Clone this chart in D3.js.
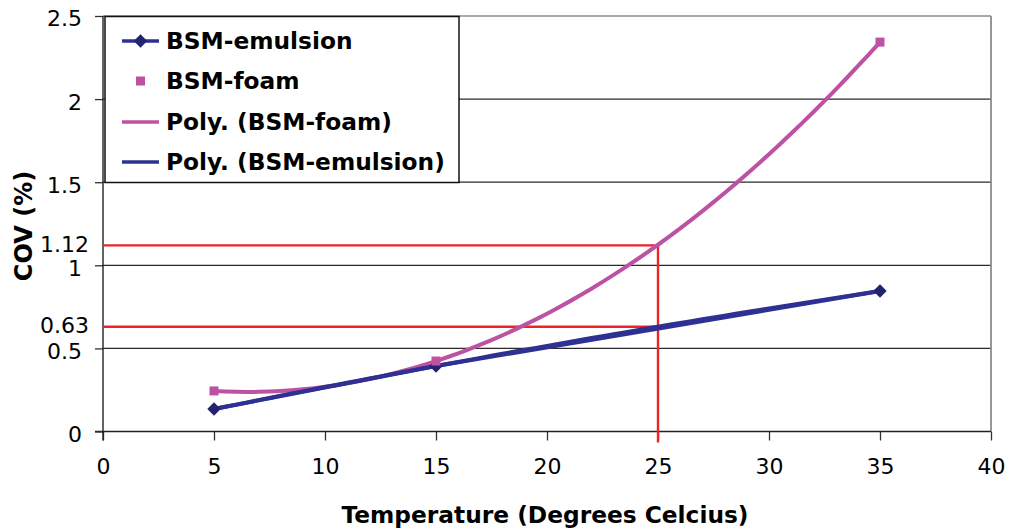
<!DOCTYPE html>
<html>
<head>
<meta charset="utf-8">
<script src="https://cdn.jsdelivr.net/npm/d3@7"></script>
<style>
  html, body { margin: 0; padding: 0; background: #fff; }
  svg { display: block; }
</style>
</head>
<body>
<svg id="chart" width="1009" height="530"></svg>
<script>
// ---- Data ----
const temperatures = [5, 15, 35];
const emulsionValues = [0.135, 0.394, 0.845];
const foamValues = [0.244, 0.424, 2.343];
const xTicks = [0, 5, 10, 15, 20, 25, 30, 35, 40];
const yTicks = [0, 0.5, 1, 1.5, 2, 2.5];
const refTemperature = 25;
const refValues = [1.12, 0.63];
const refLabels = ["1.12", "0.63"];
const legendLabels = ["BSM-emulsion", "BSM-foam", "Poly. (BSM-foam)", "Poly. (BSM-emulsion)"];
const xTitle = "Temperature (Degrees Celcius)";
const yTitle = "COV (%)";

// ---- Colors ----
const navy = "#2e3192";
const navyDark = "#232370";
const pink = "#bd52a3";
const red = "#ee2227";

const svg = d3.select("#chart");
const x = d3.scaleLinear().domain([0, 40]).range([103, 991]);
const y = d3.scaleLinear().domain([0, 2.5]).range([431.5, 16]);

// polynomial (order 2) least squares trendline
function polyFit(xs, ys) {
  const n = xs.length;
  let S = [0,0,0,0,0], T = [0,0,0];
  for (let i = 0; i < n; i++) {
    for (let k = 0; k < 5; k++) S[k] += Math.pow(xs[i], k);
    for (let k = 0; k < 3; k++) T[k] += ys[i] * Math.pow(xs[i], k);
  }
  const A = [[S[0],S[1],S[2],T[0]],[S[1],S[2],S[3],T[1]],[S[2],S[3],S[4],T[2]]];
  for (let c = 0; c < 3; c++) {
    let p = c;
    for (let r = c+1; r < 3; r++) if (Math.abs(A[r][c]) > Math.abs(A[p][c])) p = r;
    [A[c], A[p]] = [A[p], A[c]];
    for (let r = 0; r < 3; r++) if (r !== c) {
      const f = A[r][c] / A[c][c];
      for (let k = c; k < 4; k++) A[r][k] -= f * A[c][k];
    }
  }
  const coef = [A[0][3]/A[0][0], A[1][3]/A[1][1], A[2][3]/A[2][2]];
  return t => coef[0] + coef[1]*t + coef[2]*t*t;
}
function trend(xs, ys) {
  const f = polyFit(xs, ys);
  const lo = d3.min(xs), hi = d3.max(xs);
  return d3.range(0, 61).map(i => { const t = lo + (hi - lo) * i / 60; return [t, f(t)]; });
}

// ---- Plot frame & grid ----
const plotLeft = x(0), plotRight = x(40);
svg.append("g").selectAll("line").data(yTicks.filter(d => d > 0 && d < 2.5)).join("line")
  .attr("x1", plotLeft).attr("x2", plotRight)
  .attr("y1", d => y(d)).attr("y2", d => y(d))
  .attr("stroke", "#2a2a2a").attr("stroke-width", 1.2);
svg.append("line").attr("x1", plotLeft).attr("x2", plotRight).attr("y1", y(2.5)).attr("y2", y(2.5))
  .attr("stroke", "#8c8c8c").attr("stroke-width", 1.6);
svg.append("line").attr("x1", plotRight).attr("x2", plotRight).attr("y1", y(2.5)).attr("y2", y(0))
  .attr("stroke", "#8c8c8c").attr("stroke-width", 1.8);

// ---- Axes ----
const tickFont = 22;
const xAxis = d3.axisBottom(x).tickValues(xTicks).tickSize(9).tickPadding(18).tickFormat(d3.format("d"));
const gx = svg.append("g").attr("transform", `translate(0,${y(0)})`).call(xAxis);
gx.select(".domain").remove();
gx.append("line").attr("x1", x(0) - 8).attr("x2", plotRight).attr("y1", 0).attr("y2", 0).attr("stroke", "#222").attr("stroke-width", 1.4);
gx.selectAll(".tick line").attr("stroke", "#333").attr("stroke-width", 1.3);
gx.selectAll(".tick text").attr("font-family", "DejaVu Sans").attr("font-size", tickFont).attr("fill", "#000");

const yAxis = d3.axisLeft(y).tickValues(yTicks).tickSize(8).tickPadding(13).tickFormat(d => d3.format("")(d));
const gy = svg.append("g").attr("transform", `translate(${x(0)},0)`).call(yAxis);
gy.select(".domain").remove();
gy.append("line").attr("x1", 0).attr("x2", 0).attr("y1", y(2.5)).attr("y2", y(0) + 9).attr("stroke", "#222").attr("stroke-width", 1.4);
gy.selectAll(".tick line").attr("stroke", "#333").attr("stroke-width", 1.3);
gy.selectAll(".tick text").attr("font-family", "DejaVu Sans").attr("font-size", tickFont).attr("fill", "#000").attr("dy", "0.45em");

// ---- Reference (red) lines ----
const gRef = svg.append("g");
refValues.forEach((v, i) => {
  gRef.append("line").attr("x1", x(0)).attr("x2", x(refTemperature)).attr("y1", y(v)).attr("y2", y(v))
    .attr("stroke", red).attr("stroke-width", 2.4);
  gRef.append("text").attr("x", x(0) - 14).attr("y", y(v)).attr("dy", "0.3em")
    .attr("text-anchor", "end").attr("font-family", "DejaVu Sans").attr("font-size", tickFont).text(refLabels[i]);
});
gRef.append("line").attr("x1", x(refTemperature)).attr("x2", x(refTemperature))
  .attr("y1", y(d3.max(refValues))).attr("y2", y(0) + 11).attr("stroke", red).attr("stroke-width", 2.4);

// ---- Series ----
const line = d3.line().x(d => x(d[0])).y(d => y(d[1]));

svg.append("path").datum(trend(temperatures, foamValues)).attr("d", line)
  .attr("fill", "none").attr("stroke", pink).attr("stroke-width", 4);
svg.append("path").datum(trend(temperatures, emulsionValues)).attr("d", line)
  .attr("fill", "none").attr("stroke", navy).attr("stroke-width", 4);
svg.append("path").datum(temperatures.map((t, i) => [t, emulsionValues[i]])).attr("d", line)
  .attr("fill", "none").attr("stroke", navy).attr("stroke-width", 4);

svg.append("g").selectAll("path").data(temperatures.map((t, i) => [t, emulsionValues[i]])).join("path")
  .attr("transform", d => `translate(${x(d[0])},${y(d[1])}) rotate(45)`)
  .attr("d", d3.symbol().type(d3.symbolSquare).size(90)).attr("fill", navyDark);
svg.append("g").selectAll("rect").data(temperatures.map((t, i) => [t, foamValues[i]])).join("rect")
  .attr("x", d => x(d[0]) - 4.5).attr("y", d => y(d[1]) - 4.5).attr("width", 9).attr("height", 9)
  .attr("fill", pink);

// ---- Legend ----
const lg = svg.append("g");
lg.append("rect").attr("x", 105).attr("y", 16.5).attr("width", 354).attr("height", 166)
  .attr("fill", "#fff").attr("stroke", "#111").attr("stroke-width", 1.5);
const rowY = [41, 81, 122, 162];
legendLabels.forEach((lab, i) => {
  const yy = rowY[i];
  if (i === 0 || i === 2 || i === 3) {
    lg.append("line").attr("x1", 122).attr("x2", 159).attr("y1", yy).attr("y2", yy)
      .attr("stroke", i === 2 ? pink : navy).attr("stroke-width", 3.6);
  }
  if (i === 0) {
    lg.append("path").attr("transform", `translate(140.5,${yy}) rotate(45)`)
      .attr("d", d3.symbol().type(d3.symbolSquare).size(90)).attr("fill", navyDark);
  }
  if (i === 1) {
    lg.append("rect").attr("x", 136).attr("y", yy - 4.5).attr("width", 9).attr("height", 9).attr("fill", pink);
  }
  lg.append("text").attr("x", 166).attr("y", yy).attr("dy", "0.36em")
    .attr("font-family", "DejaVu Sans").attr("font-weight", "bold").attr("font-size", 23.3)
    .attr("fill", "#000").text(lab);
});

// ---- Titles ----
svg.append("text").attr("x", 545).attr("y", 523).attr("text-anchor", "middle")
  .attr("font-family", "DejaVu Sans").attr("font-weight", "bold").attr("font-size", 23.3).text(xTitle);
svg.append("text").attr("transform", "translate(32,226) rotate(-90)").attr("text-anchor", "middle")
  .attr("font-family", "DejaVu Sans").attr("font-weight", "bold").attr("font-size", 24).text(yTitle);
</script>
</body>
</html>
